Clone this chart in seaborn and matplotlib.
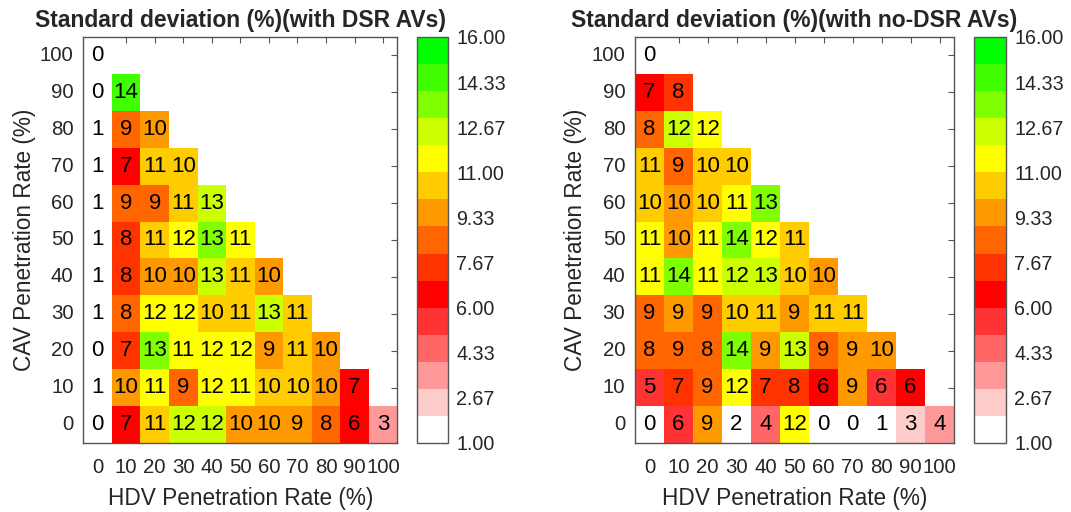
import numpy as np
import pandas as pd
import seaborn as sns
import matplotlib.pyplot as plt
from matplotlib.colors import ListedColormap
from matplotlib.ticker import FormatStrFormatter

sns.set_style("white")
plt.rcParams["font.family"] = ["Liberation Sans", "DejaVu Sans"]

# penetration rates
cav_rates = [100, 90, 80, 70, 60, 50, 40, 30, 20, 10, 0]   # rows, top to bottom
hdv_rates = [0, 10, 20, 30, 40, 50, 60, 70, 80, 90, 100]   # columns

# standard deviation (%), one list per CAV row (HDV = 0, 10, ...)
dsr_std = [
    [0.3],
    [0.4, 14.2],
    [0.9, 8.7, 9.7],
    [1.1, 6.8, 10.7, 10.2],
    [0.8, 8.6, 8.6, 10.8, 12.6],
    [1.0, 7.8, 10.6, 11.6, 13.2, 11.2],
    [1.2, 7.7, 9.8, 9.7, 12.8, 10.8, 9.6],
    [0.9, 8.3, 11.6, 11.7, 10.3, 10.7, 12.7, 10.8],
    [0.4, 7.3, 13.1, 11.3, 11.8, 11.7, 9.2, 10.6, 9.7],
    [0.8, 9.6, 11.2, 8.8, 11.8, 11.3, 10.2, 10.3, 9.6, 6.8],
    [0.3, 6.7, 10.7, 12.2, 12.3, 9.8, 9.7, 9.3, 8.4, 6.2, 3.2],
]

nodsr_std = [
    [0.2],
    [6.6, 7.6],
    [8.2, 12.4, 11.6],
    [10.6, 8.8, 10.2, 10.3],
    [10.2, 9.8, 10.1, 11.1, 13.2],
    [11.2, 9.7, 11.3, 13.6, 11.7, 10.9],
    [11.1, 13.7, 11.2, 12.3, 12.7, 10.3, 9.8],
    [8.9, 9.2, 8.8, 10.2, 10.8, 9.3, 10.7, 10.6],
    [8.3, 8.7, 8.4, 13.6, 9.3, 12.8, 8.9, 9.2, 9.7],
    [5.2, 7.2, 8.7, 11.6, 7.4, 7.6, 6.3, 9.1, 5.8, 6.2],
    [0.3, 5.7, 9.2, 1.8, 4.3, 11.5, 0.2, 0.1, 1.2, 2.7, 3.6],
]

titles = ["Standard deviation (%)(with DSR AVs)",
          "Standard deviation (%)(with no-DSR AVs)"]

band_colors = ["#FFFFFF", "#FFCCCC", "#FF9999", "#FF6666", "#FF3333",
               "#FF0000", "#FF3300", "#FF6600", "#FF9900", "#FFCC00",
               "#FFFF00", "#CCFF00", "#80FF00", "#40FF00", "#00FF00"]
cmap = ListedColormap(band_colors)
cmap.set_under("white")


def to_frame(rows):
    grid = np.full((len(cav_rates), len(hdv_rates)), np.nan)
    for i, r in enumerate(rows):
        grid[i, :len(r)] = r
    return pd.DataFrame(grid, index=cav_rates, columns=hdv_rates)


fig = plt.figure(figsize=(10.71, 5.12), dpi=100)
ax_pos = [[0.0778, 0.1348, 0.2932, 0.793], [0.5929, 0.1348, 0.2979, 0.793]]
cb_pos = [[0.3894, 0.1348, 0.0289, 0.793], [0.9094, 0.1348, 0.0299, 0.793]]

edge = "#555555"
txt = "#262626"
for k, rows in enumerate([dsr_std, nodsr_std]):
    ax = fig.add_axes(ax_pos[k])
    cax = fig.add_axes(cb_pos[k])
    df = to_frame(rows)
    sns.heatmap(df, ax=ax, cbar_ax=cax, cmap=cmap, vmin=1, vmax=16,
                annot=True, fmt=".0f",
                annot_kws={"color": "black", "fontsize": 16})
    ax.set_title(titles[k], fontsize=16.5, fontweight="bold", pad=7)
    ax.set_xlabel("HDV Penetration Rate (%)", fontsize=16.3, color=txt,
                  labelpad=7)
    ax.set_ylabel("CAV Penetration Rate (%)", fontsize=16.3, color=txt,
                  labelpad=3)
    ax.tick_params(axis="both", labelsize=14.7, labelcolor=txt,
                   direction="in", length=4, color=edge,
                   top=True, right=True, left=True, bottom=False)
    ax.tick_params(axis="x", pad=11)
    ax.tick_params(axis="y", pad=7)
    ax.set_yticklabels(cav_rates, rotation=0)
    ax.set_xticklabels(hdv_rates, rotation=0)
    for s in ax.spines.values():
        s.set_visible(True)
        s.set_color(edge)
        s.set_linewidth(1.0)

    cb = ax.collections[0].colorbar
    cb.set_ticks(np.linspace(1, 16, 10))
    cb.ax.yaxis.set_major_formatter(FormatStrFormatter("%.2f"))
    cb.ax.tick_params(labelsize=14.2, labelcolor=txt, direction="in",
                      length=4, color=edge, pad=6)
    cb.outline.set_visible(True)
    cb.outline.set_edgecolor(edge)
    cb.outline.set_linewidth(1.0)

plt.savefig("out.png", dpi=100)
